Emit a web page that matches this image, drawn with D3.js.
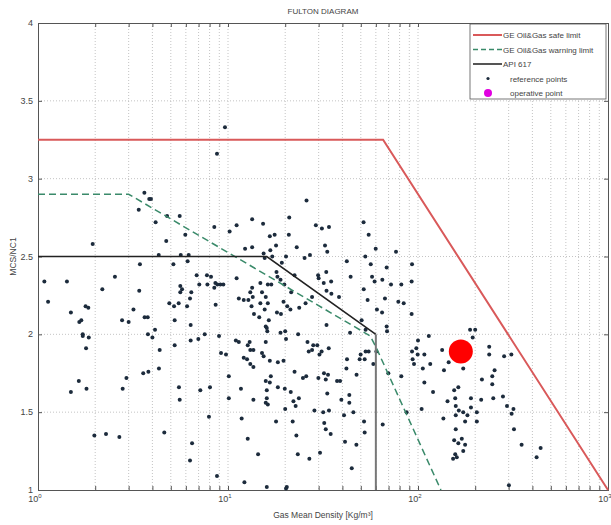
<!DOCTYPE html>
<html>
<head>
<meta charset="utf-8">
<script src="https://cdn.jsdelivr.net/npm/d3@7"></script>
<style>
  body { margin: 0; background: #fff; }
  text { font-family: "Liberation Sans", Arial, sans-serif; fill: #444; }
</style>
</head>
<body>
<div id="chart"></div>
<script>
// limit curves (density, MCS/NC1)
var safeX = [1, 65.5, 1000];
var safeY = [3.25, 3.25, 1];
var warnX = [1, 3, 56, 60, 132];
var warnY = [2.9, 2.9, 1.99, 1.92, 1];
var apiX = [1, 16, 60];
var apiY = [2.5, 2.5, 2.0];
var apiVertX = [60, 60];
var apiVertY = [2.0, 1];

// operative point
var opX = [168];
var opY = [1.89];

// reference points
var refX = [3.63,3.85,3.93,3.39,5.57,4.78,4.16,8.47,11.1,13.4,15.3,5.96,4.73,1.94,10.2,16.6,17.6,12.3,13.4,16.7,
  17.9,4.32,5.64,6.21,6.13,3.44,5.16,15.4,17.1,15.6,18.0,18.2,6.84,7.75,8.14,7.06,7.79,8.58,8.79,9.12,
  9.45,8.47,11.1,1.08,1.42,2.54,2.18,3.41,1.13,5.61,5.73,5.61,6.41,6.31,6.09,4.91,5.20,5.50,8.61,1.78,
  1.84,1.49,1.65,1.69,3.18,2.77,3.00,3.64,3.78,4.13,5.24,6.36,11.4,12.1,12.8,13.5,13.4,14.8,16.2,16.9,
  15.1,13.1,13.3,13.7,14.6,14.8,16.2,15.8,15.6,16.4,18.1,19.0,15.8,16.0,16.1,1.72,1.72,1.85,1.79,3.79,
  4.00,4.37,5.24,6.36,6.98,7.54,8.97,9.19,9.76,11.0,11.4,13.0,12.7,13.1,13.6,15.1,15.4,16.6,18.3,12.1,
  12.6,13.1,13.6,15.8,16.8,16.6,15.8,16.0,16.0,15.8,16.2,18.3,1.64,1.49,1.80,2.79,2.92,3.58,3.81,4.33,
  5.52,5.57,7.15,8.04,10.1,10.1,11.7,13.6,7.94,11.8,17.9,1.98,2.28,2.68,4.62,6.47,6.31,12.7,14.4,8.75,
  12.2,16.0,20.2,9.64,8.75,
  25.9,21.0,20.9,29.0,31.2,34.0,23.0,25.3,27.0,32.4,33.3,20.2,19.2,29.8,30.0,32.9,31.9,34.9,22.4,21.5,
  19.8,18.9,23.7,25.6,27.7,19.6,20.5,21.3,33.0,35.0,38.4,42.2,44.2,51.7,55.0,59.9,76.6,93.0,68.4,52.8,
  56.4,57.3,59.1,64.9,72.1,81.7,92.6,51.8,54.3,67.0,78.8,84.1,92.6,60.8,64.7,68.4,68.7,50.5,53.0,43.9,
  33.0,23.4,20.0,20.2,18.9,26.2,26.6,27.7,28.1,29.5,30.3,31.1,33.9,22.4,19.9,19.6,24.8,25.8,29.9,32.0,
  33.6,32.7,37.5,38.9,21.4,23.6,22.1,22.7,20.0,33.3,28.5,31.7,34.0,39.5,42.0,42.3,47.5,43.5,43.5,40.8,
  45.7,49.3,49.9,52.4,53.0,55.0,58.2,60.4,69.8,81.7,87.1,104.5,93.7,95.3,99.6,98.0,93.0,108,106,108,
  114,100,52.0,52.4,65.2,21.9,32.1,32.7,34.7,22.9,41.3,47.4,30.5,26.8,23.3,44.8,20.4,
  188,200,194,134,145,137,173,116,237,237,284,310,217,246,253,246,120,155,163,143,
  157,190,215,249,280,294,318,311,136,158,164,158,173,182,190,204,204,177,158,170,
  155,163,177,157,160,153,173,320,351,421,442,301];
var refY = [2.91,2.87,2.87,2.80,2.76,2.76,2.72,2.69,2.70,2.74,2.71,2.64,2.60,2.58,2.66,2.63,2.64,2.55,2.56,2.54,
  2.57,2.51,2.51,2.51,2.47,2.45,2.45,2.52,2.50,2.49,2.40,2.37,2.38,2.38,2.37,2.32,2.32,2.33,2.32,2.32,
  2.32,2.30,2.36,2.34,2.34,2.37,2.29,2.28,2.21,2.31,2.29,2.27,2.27,2.23,2.18,2.20,2.18,2.20,2.19,2.18,
  2.17,2.14,2.08,2.09,2.16,2.09,2.08,2.11,2.11,2.03,2.09,2.06,2.23,2.22,2.22,2.24,2.30,2.33,2.32,2.32,
  2.27,2.27,2.18,2.13,2.11,2.20,2.20,2.24,2.16,2.09,2.14,2.13,2.05,2.04,2.02,2.00,1.99,1.98,1.91,2.00,
  1.98,1.90,1.93,1.96,1.97,2.00,1.99,1.88,1.87,1.96,1.95,1.95,1.93,1.90,1.90,1.88,1.86,1.83,1.82,1.85,
  1.84,1.81,1.79,1.95,1.73,1.69,1.70,1.64,1.59,1.56,1.55,1.66,1.70,1.63,1.65,1.65,1.72,1.75,1.76,1.78,
  1.66,1.58,1.64,1.66,1.73,1.59,1.65,1.58,1.47,1.46,1.44,1.35,1.36,1.34,1.37,1.30,1.19,1.33,1.23,1.09,
  1.05,1.02,1.01,3.33,3.16,
  2.86,2.75,2.64,2.70,2.68,2.69,2.56,2.49,2.51,2.57,2.53,2.50,2.46,2.38,2.36,2.40,2.33,2.34,2.38,2.27,
  2.32,2.35,2.17,2.20,2.24,2.21,2.18,2.16,2.28,2.26,2.24,2.47,2.37,2.72,2.64,2.55,2.53,2.45,2.43,2.50,
  2.45,2.37,2.34,2.35,2.32,2.32,2.34,2.29,2.22,2.23,2.21,2.20,2.13,2.16,2.14,2.05,2.02,2.09,2.03,2.01,
  2.06,2.00,2.02,1.97,2.01,1.95,1.89,1.90,1.93,1.93,1.87,1.89,1.91,1.76,1.65,1.83,1.72,1.73,1.72,1.75,
  1.74,1.71,1.70,1.70,1.63,1.59,1.57,1.54,1.52,1.62,1.51,1.50,1.51,1.58,1.78,1.84,1.74,1.61,1.56,1.48,
  1.50,1.84,1.87,1.84,1.89,1.89,1.81,1.89,1.75,1.73,1.50,1.52,1.84,1.81,1.87,1.91,1.89,1.87,1.78,1.69,
  1.99,1.96,1.44,1.37,1.42,1.44,1.43,1.39,1.36,1.35,1.31,1.29,1.24,1.20,1.23,1.14,1.02,
  2.03,2.03,1.98,1.90,1.82,1.77,1.78,1.81,1.92,1.87,1.86,1.87,1.71,1.73,1.77,1.68,1.63,1.64,1.66,1.57,
  1.59,1.59,1.58,1.59,1.60,1.54,1.52,1.49,1.46,1.54,1.51,1.48,1.50,1.48,1.53,1.50,1.44,1.44,1.39,1.33,
  1.32,1.30,1.29,1.23,1.21,1.20,1.25,1.39,1.29,1.21,1.27,1.03];

var xMajor = [1, 10, 100, 1000];
var xMajorExp = ["0", "1", "2", "3"];
var yTicks = [1, 1.5, 2, 2.5, 3, 3.5, 4];
var yTickLabels = ["1", "1.5", "2", "2.5", "3", "3.5", "4"];
var legendLabels = ["GE Oil&Gas safe limit", "GE Oil&Gas warning limit", "API 617", "reference points", "operative point"];

var W = 611, H = 525;
var margin = {top: 23, right: 3, bottom: 35, left: 38};
var width = W - margin.left - margin.right;
var height = H - margin.top - margin.bottom;

var svg = d3.select("#chart").append("svg")
  .attr("width", W)
  .attr("height", H);

var g = svg.append("g")
  .attr("transform", "translate(" + margin.left + "," + margin.top + ")");

var x = d3.scaleLog().domain([1, 1000]).range([0, width]);
var y = d3.scaleLinear().domain([1, 4]).range([height, 0]);

// all log ticks 1..9 per decade
var xMinor = [];
[1, 10, 100].forEach(function(p) {
  for (var k = 1; k <= 9; k++) xMinor.push(k * p);
});
xMinor.push(1000);

// grid
g.append("g").selectAll("line").data(xMinor.slice(1, -1)).enter().append("line")
  .attr("x1", function(d) { return x(d); })
  .attr("x2", function(d) { return x(d); })
  .attr("y1", 0).attr("y2", height)
  .attr("stroke", "#b5b5b5").attr("stroke-width", 0.8)
  .attr("stroke-dasharray", "1,2");
g.append("g").selectAll("line").data(yTicks.slice(1, -1)).enter().append("line")
  .attr("x1", 0).attr("x2", width)
  .attr("y1", function(d) { return y(d); })
  .attr("y2", function(d) { return y(d); })
  .attr("stroke", "#b5b5b5").attr("stroke-width", 0.8)
  .attr("stroke-dasharray", "1,2");

// axes (ticks inward, box style)
var xAxisB = d3.axisBottom(x).tickValues(xMinor).tickSize(-4).tickFormat("");
var xAxisT = d3.axisTop(x).tickValues(xMinor).tickSize(-4).tickFormat("");
var yAxisL = d3.axisLeft(y).tickValues(yTicks).tickSize(-4).tickFormat("");
var yAxisR = d3.axisRight(y).tickValues(yTicks).tickSize(-4).tickFormat("");

g.append("g").attr("transform", "translate(0," + height + ")").call(xAxisB);
g.append("g").call(xAxisT);
g.append("g").call(yAxisL);
g.append("g").attr("transform", "translate(" + width + ",0)").call(yAxisR);
g.selectAll(".domain").attr("stroke", "#555");
g.selectAll(".tick line").attr("stroke", "#555");

// tick labels
g.append("g").selectAll("text").data(yTicks).enter().append("text")
  .attr("x", -5)
  .attr("y", function(d) { return y(d) + 3; })
  .attr("text-anchor", "end")
  .style("font-size", "9px")
  .text(function(d, i) { return yTickLabels[i]; });

var xl = g.append("g").selectAll("text").data(xMajor).enter().append("text")
  .attr("x", function(d) { return x(d) - 3; })
  .attr("y", height + 12)
  .attr("text-anchor", "middle")
  .style("font-size", "9px");
xl.append("tspan").text("10");
xl.append("tspan").attr("dy", -4).style("font-size", "6px").text(function(d, i) { return xMajorExp[i]; });

// titles
svg.append("text")
  .attr("x", margin.left + width / 2)
  .attr("y", 14)
  .attr("text-anchor", "middle")
  .style("font-size", "8px")
  .text("FULTON DIAGRAM");
svg.append("text")
  .attr("x", margin.left + width / 2)
  .attr("y", 518)
  .attr("text-anchor", "middle")
  .style("font-size", "8.5px")
  .text("Gas Mean Density [Kg/m³]");
svg.append("text")
  .attr("transform", "translate(16," + (margin.top + height / 2) + ") rotate(-90)")
  .attr("text-anchor", "middle")
  .style("font-size", "8.5px")
  .text("MCS/NC1");

// reference points
g.append("g").selectAll("circle").data(refX).enter().append("circle")
  .attr("cx", function(d) { return x(d); })
  .attr("cy", function(d, i) { return y(refY[i]); })
  .attr("r", 2)
  .attr("fill", "#1c2b3c");

var line = d3.line()
  .x(function(d) { return x(d[0]); })
  .y(function(d) { return y(d[1]); });

g.append("path")
  .datum(safeX.map(function(d, i) { return [d, safeY[i]]; }))
  .attr("d", line).attr("fill", "none")
  .attr("stroke", "#d9595a").attr("stroke-width", 2);
g.append("path")
  .datum(warnX.map(function(d, i) { return [d, warnY[i]]; }))
  .attr("d", line).attr("fill", "none")
  .attr("stroke", "#3a8a6a").attr("stroke-width", 1.5)
  .attr("stroke-dasharray", "7,4");
g.append("path")
  .datum(apiX.map(function(d, i) { return [d, apiY[i]]; }))
  .attr("d", line).attr("fill", "none")
  .attr("stroke", "#222").attr("stroke-width", 1.6);
g.append("path")
  .datum(apiVertX.map(function(d, i) { return [d, apiVertY[i]]; }))
  .attr("d", line).attr("fill", "none")
  .attr("stroke", "#777").attr("stroke-width", 2);

// operative point
g.append("g").selectAll("circle").data(opX).enter().append("circle")
  .attr("cx", function(d) { return x(d); })
  .attr("cy", function(d, i) { return y(opY[i]); })
  .attr("r", 12)
  .attr("fill", "#ff0000");

// legend
var lg = svg.append("g").attr("transform", "translate(470,24)");
lg.append("rect")
  .attr("width", 136).attr("height", 75)
  .attr("fill", "#fff").attr("stroke", "#555").attr("stroke-width", 0.8);
var rowY = function(i) { return 11 + i * 14.5; };
lg.append("line").attr("x1", 3).attr("x2", 32).attr("y1", rowY(0)).attr("y2", rowY(0))
  .attr("stroke", "#d9595a").attr("stroke-width", 2);
lg.append("line").attr("x1", 3).attr("x2", 32).attr("y1", rowY(1)).attr("y2", rowY(1))
  .attr("stroke", "#3a8a6a").attr("stroke-width", 1.5).attr("stroke-dasharray", "5,3");
lg.append("line").attr("x1", 3).attr("x2", 32).attr("y1", rowY(2)).attr("y2", rowY(2))
  .attr("stroke", "#555").attr("stroke-width", 2);
lg.append("circle").attr("cx", 18).attr("cy", rowY(3)).attr("r", 1.6).attr("fill", "#1c2b3c");
lg.append("circle").attr("cx", 18).attr("cy", rowY(4)).attr("r", 4).attr("fill", "#e000e0");
lg.selectAll("text.lab").data(legendLabels).enter().append("text")
  .attr("class", "lab")
  .attr("x", function(d, i) { return i < 3 ? 33 : 40; })
  .attr("y", function(d, i) { return rowY(i) + 3; })
  .style("font-size", "8px")
  .text(function(d) { return d; });
</script>
</body>
</html>
